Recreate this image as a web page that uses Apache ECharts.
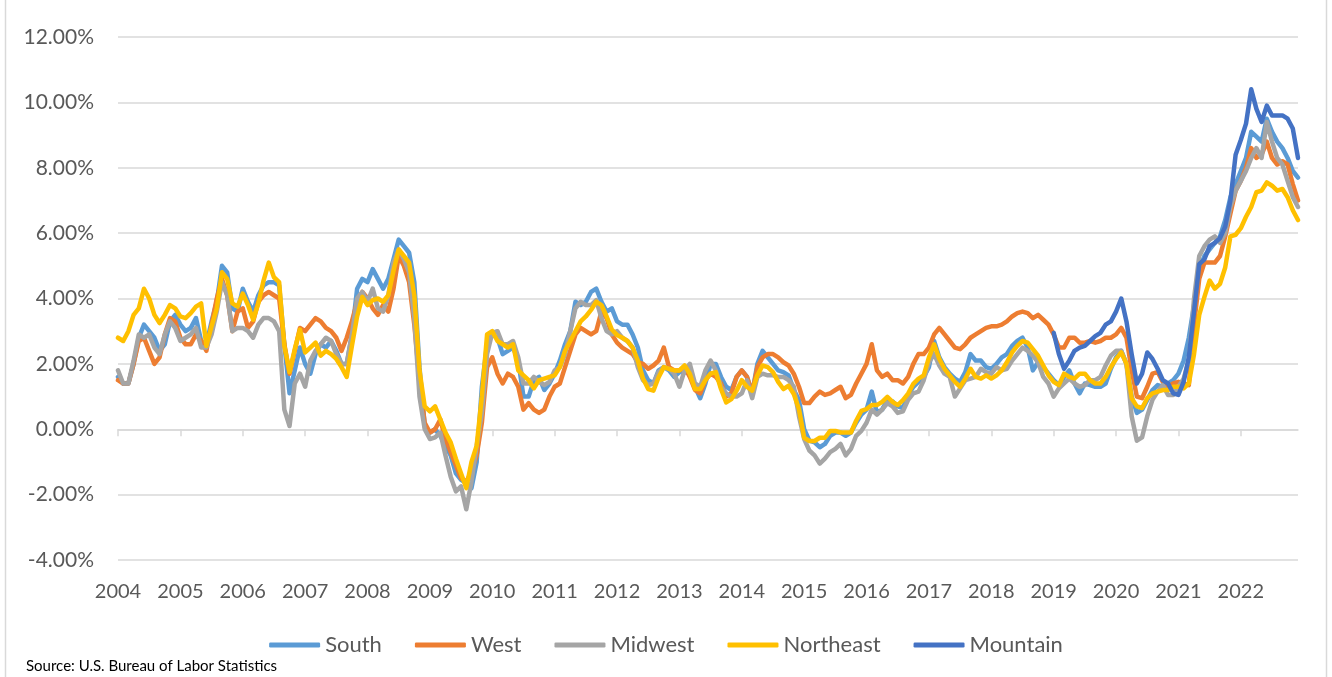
<!DOCTYPE html>
<html>
<head>
<meta charset="utf-8">
<title>Regional CPI</title>
<script src="https://cdn.jsdelivr.net/npm/echarts@6/dist/echarts.min.js"></script>
<style>
  html, body { margin: 0; padding: 0; background: #ffffff; }
  #chart { width: 1332px; height: 677px; }
</style>
</head>
<body>
<div id="chart"></div>
<script>
// monthly, Jan 2004 .. Dec 2022
const years = [2004, 2005, 2006, 2007, 2008, 2009, 2010, 2011, 2012, 2013,
  2014, 2015, 2016, 2017, 2018, 2019, 2020, 2021, 2022];
const months = ["01", "02", "03", "04", "05", "06", "07", "08", "09", "10", "11", "12"];

const south = [
  1.6, 1.4, 1.4, 2.0, 2.8, 3.2, 3.0, 2.8, 2.4, 2.6, 3.3, 3.5,
  3.2, 3.0, 3.1, 3.4, 2.7, 2.6, 3.3, 3.9, 5.0, 4.8, 3.7, 3.6,
  4.3, 3.9, 3.6, 4.1, 4.4, 4.5, 4.5, 4.4, 2.6, 1.1, 1.8, 2.5,
  2.0, 1.7, 2.3, 2.6, 2.5, 2.7, 2.4, 2.0, 2.0, 2.9, 4.3, 4.6,
  4.5, 4.9, 4.6, 4.3, 4.6, 5.2, 5.8, 5.6, 5.4, 4.5, 1.9, 0.1,
  -0.1, 0.0, -0.2, -0.5, -0.8, -1.35, -1.55, -1.65, -1.8, -1.0, 1.3, 2.6,
  2.9, 2.8, 2.3, 2.4, 2.5, 2.1, 1.0, 1.0, 1.5, 1.6, 1.2, 1.4,
  1.7, 2.1, 2.6, 3.0, 3.9, 3.8, 3.9, 4.2, 4.3, 3.9, 3.6, 3.7,
  3.3, 3.2, 3.2, 2.9, 2.5, 1.8, 1.5, 1.4, 1.8, 1.9, 1.8, 1.6,
  1.75, 1.75, 1.7, 1.3, 0.95, 1.4, 2.0, 2.0, 1.6, 1.3, 1.2, 1.6,
  1.8, 1.6, 1.1, 2.0, 2.4, 2.2, 2.0, 1.8, 1.75, 1.65, 1.2, 0.9,
  0.0, -0.35, -0.4, -0.55, -0.45, -0.2, -0.1, -0.1, -0.2, -0.1, 0.2, 0.45,
  0.6, 1.15, 0.5, 0.6, 0.9, 0.85, 0.7, 0.65, 1.05, 1.3, 1.45, 1.6,
  1.9, 2.7, 2.2, 1.9, 1.7, 1.55, 1.45, 1.75, 2.3, 2.1, 2.1, 1.9,
  1.85, 2.0, 2.2, 2.3, 2.55, 2.7, 2.8, 2.5, 1.8, 2.05, 1.9, 1.7,
  1.5, 1.35, 1.6, 1.8, 1.4, 1.1, 1.4, 1.35, 1.3, 1.3, 1.4, 1.85,
  2.2, 2.4, 2.0, 1.0, 0.5, 0.6, 0.9, 1.2, 1.35, 1.3, 1.4, 1.5,
  1.7, 2.1, 2.8, 3.8, 4.9, 5.3, 5.5, 5.7, 5.9, 6.4, 7.1, 7.5,
  7.9, 8.3, 9.1, 8.95, 8.8, 9.5, 9.1, 8.8, 8.6, 8.3, 7.9, 7.7
];

const west = [
  1.5, 1.4, 1.4, 2.0, 2.7, 2.8, 2.4, 2.0, 2.2, 2.9, 3.4, 3.3,
  2.8, 2.6, 2.6, 2.9, 2.7, 2.4, 3.2, 4.0, 4.6, 4.1, 3.0, 3.6,
  3.7, 3.1, 3.3, 3.9, 4.1, 4.2, 4.1, 4.0, 2.6, 1.7, 2.4, 3.1,
  3.0, 3.2, 3.4, 3.3, 3.1, 3.0, 2.8, 2.4, 2.8, 3.3, 3.9, 4.2,
  4.0, 3.7, 3.5, 3.8, 3.6, 4.3, 5.3, 5.0, 4.5, 3.2, 1.5, 0.2,
  -0.1, 0.0, 0.3, -0.3, -0.7, -1.1, -1.5, -1.6, -1.3, -0.8, 0.2, 1.9,
  2.2, 1.7, 1.4, 1.7, 1.6, 1.3, 0.6, 0.8, 0.6, 0.5, 0.6, 1.0,
  1.3, 1.4, 1.9, 2.4, 2.9, 3.1, 3.0, 2.9, 3.0, 3.6, 3.4, 2.9,
  2.65, 2.5, 2.4, 2.3, 2.05, 2.0, 1.85, 1.95, 2.1, 2.5, 1.9, 1.8,
  1.8, 1.9, 1.6, 1.2, 1.1, 1.5, 1.7, 1.6, 1.4, 1.0, 1.1, 1.6,
  1.8, 1.6, 1.1, 1.9, 2.2, 2.3, 2.3, 2.2, 2.05, 1.95, 1.7, 1.3,
  0.8, 0.8, 1.0, 1.15, 1.05, 1.1, 1.2, 1.3, 0.95, 1.05, 1.4, 1.7,
  2.0, 2.6, 1.8, 1.6, 1.7, 1.5, 1.5, 1.4, 1.6, 2.0, 2.3, 2.3,
  2.5, 2.9, 3.1, 2.9, 2.7, 2.5, 2.45, 2.6, 2.8, 2.9, 3.0, 3.1,
  3.15, 3.15, 3.2, 3.3, 3.45, 3.55, 3.6, 3.55, 3.4, 3.5, 3.35, 3.2,
  2.9, 2.5, 2.5, 2.8, 2.8, 2.65, 2.65, 2.7, 2.65, 2.7, 2.8, 2.8,
  2.9, 3.1, 2.8, 1.8, 1.0, 0.95, 1.3, 1.7, 1.75, 1.45, 1.3, 1.4,
  1.45, 1.4, 1.35, 3.2, 4.6, 5.1, 5.1, 5.1, 5.3, 5.9, 6.6, 7.3,
  7.6, 8.0, 8.6, 8.3, 8.4, 8.8, 8.3, 8.1, 8.2, 8.1, 7.5, 7.0
];

const midwest = [
  1.8, 1.4, 1.4, 2.1, 2.9, 2.8, 2.9, 2.5, 2.3, 2.9, 3.3, 3.1,
  2.7, 2.8, 2.9, 3.1, 2.5, 2.5, 2.9, 3.6, 4.5, 4.1, 3.0, 3.1,
  3.1, 3.0, 2.8, 3.2, 3.4, 3.4, 3.3, 3.0, 0.6, 0.1, 1.4, 1.7,
  1.3, 2.1, 2.4, 2.6, 2.8, 2.7, 2.3, 2.0, 2.0, 2.9, 4.0, 4.2,
  3.9, 4.3, 3.7, 3.6, 4.1, 5.1, 5.5, 5.2, 4.8, 3.4, 1.0, 0.0,
  -0.3, -0.25, -0.1, -0.8, -1.45, -1.9, -1.75, -2.45, -1.6, -0.5, 0.5, 2.3,
  2.95, 3.0, 2.6, 2.6, 2.7, 2.2, 1.4, 1.4, 1.6, 1.45, 1.35, 1.45,
  1.8, 1.9, 2.3, 3.0, 3.7, 3.9, 3.8, 3.8, 3.95, 3.4, 3.0, 2.9,
  3.0, 2.8, 2.7, 2.5, 1.9, 1.5, 1.35, 1.4, 1.75, 1.9, 1.85, 1.7,
  1.3, 1.8, 2.0, 1.4, 1.3, 1.8, 2.1, 1.8, 1.3, 1.1, 1.0, 1.0,
  1.1, 1.5, 0.95, 1.6, 1.7, 1.65, 1.65, 1.6, 1.6, 1.5, 1.3, 0.4,
  -0.3, -0.65, -0.8, -1.05, -0.9, -0.7, -0.6, -0.45, -0.8, -0.6, -0.2, -0.05,
  0.2, 0.6, 0.45, 0.6, 0.8, 0.7, 0.5, 0.55, 0.9, 1.1, 1.15, 1.5,
  2.05, 2.3, 1.95, 1.7, 1.6, 1.0, 1.25, 1.5, 1.55, 1.6, 1.85, 1.75,
  1.7, 1.9, 1.8, 1.85, 2.1, 2.3, 2.5, 2.4, 2.25, 2.05, 1.6, 1.4,
  1.0, 1.25, 1.4, 1.55, 1.4, 1.3, 1.35, 1.5, 1.5, 1.6, 1.95, 2.25,
  2.4, 2.4, 2.0, 0.4, -0.35, -0.25, 0.4, 0.9, 1.15, 1.35, 1.05, 1.05,
  1.3, 1.55, 2.1, 4.0, 5.3, 5.6, 5.8, 5.9, 5.7, 6.0, 6.8, 7.3,
  7.6, 7.9, 8.3, 8.6, 8.3, 9.4, 8.8, 8.3, 8.1, 7.6, 7.1, 6.8
];

const northeast = [
  2.8, 2.7, 3.0, 3.5, 3.7, 4.3, 4.0, 3.5, 3.25, 3.5, 3.8, 3.7,
  3.45, 3.4, 3.55, 3.75, 3.85, 2.55, 3.15, 3.7, 4.8, 4.6, 3.85, 3.75,
  4.15, 3.8, 3.35, 3.85, 4.55, 5.1, 4.65, 4.5, 2.55, 1.75, 2.45, 3.05,
  2.35, 2.5, 2.65, 2.25, 2.4, 2.3, 2.15, 1.9, 1.6, 2.55, 3.45, 4.05,
  3.8, 3.95, 4.0, 3.9, 4.1, 4.85, 5.5, 5.3, 5.1, 4.1, 1.8, 0.7,
  0.55, 0.7, 0.3, -0.1, -0.4, -0.9, -1.35, -1.8, -1.0, -0.5, 1.0, 2.9,
  3.0, 2.7, 2.6, 2.5, 2.6, 1.8, 1.65, 1.5, 1.25, 1.5, 1.55, 1.6,
  1.65, 1.9, 2.4, 2.7, 3.0, 3.3, 3.45, 3.65, 3.9, 3.8, 3.45, 3.05,
  2.88, 2.8, 2.7, 2.5, 2.1, 1.55, 1.23, 1.18, 1.59, 1.9, 1.85, 1.8,
  1.8, 1.95, 1.7, 1.23, 1.23, 1.5, 1.7, 1.75, 1.23, 0.82, 0.92, 1.18,
  1.5, 1.3, 1.18, 1.65, 1.95, 1.9, 1.75, 1.45, 1.23, 1.33, 1.08, 0.62,
  -0.26, -0.36, -0.36, -0.26, -0.26, -0.05, -0.05, -0.1, -0.1, -0.1, 0.26, 0.56,
  0.62, 0.74, 0.74, 0.84, 0.99, 0.84, 0.74, 0.89, 1.09, 1.39, 1.55, 1.65,
  2.2, 2.6, 2.15, 1.85, 1.65, 1.45, 1.3, 1.55, 1.85, 1.6, 1.55, 1.65,
  1.55, 1.65, 1.8, 2.05, 2.35, 2.55, 2.7, 2.65, 2.45, 2.25, 1.95, 1.65,
  1.45, 1.35, 1.7, 1.6, 1.55, 1.7, 1.7, 1.5, 1.4, 1.4, 1.6, 1.9,
  2.15, 2.35, 2.0, 0.95, 0.7, 0.65, 0.95, 1.1, 1.15, 1.2, 1.2, 1.3,
  1.3, 1.25, 1.4, 2.3, 3.5, 4.05, 4.55, 4.3, 4.45, 4.95, 5.9, 5.95,
  6.15, 6.5, 6.8, 7.25, 7.3, 7.55, 7.45, 7.3, 7.35, 7.1, 6.7, 6.4
];

// Mountain series only begins in 2019
const mountainStart = 2019;
const mountain = [
  2.95, 2.3, 1.85, 2.1, 2.4, 2.5, 2.55, 2.7, 2.85, 2.95, 3.2, 3.3,
  3.6, 4.0, 3.3, 2.3, 1.4, 1.7, 2.35, 2.15, 1.85, 1.5, 1.4, 1.1,
  1.05, 1.45, 2.2, 3.6, 5.05, 5.2, 5.6, 5.7, 5.85, 6.2, 7.0, 8.4,
  8.85, 9.35, 10.4, 9.8, 9.4, 9.9, 9.6, 9.6, 9.6, 9.5, 9.2, 8.3
];

const seriesNames = ["South", "West", "Midwest", "Northeast", "Mountain"];
const seriesColors = ["#5B9BD5", "#ED7D31", "#A5A5A5", "#FFC000", "#4472C4"];
const yTicks = [-4, -2, 0, 2, 4, 6, 8, 10, 12];

let categories = [];
years.forEach((y) => months.forEach((m) => categories.push(y + "-" + m)));

let mountainFull = categories.map((c, i) => {
  let k = i - (mountainStart - years[0]) * 12;
  return k >= 0 ? mountain[k] : null;
});

const allData = [south, west, midwest, northeast, mountainFull];
const font = "Lato, Calibri, sans-serif";

let option = {
  animation: false,
  color: seriesColors,
  grid: {
    left: 118,
    right: 34,
    top: 37,
    bottom: 117,
  },
  legend: {
    data: seriesNames,
    top: 629,
    left: "center",
    icon: "roundRect",
    itemWidth: 51,
    itemHeight: 5,
    itemGap: 33,
    textStyle: {
      fontFamily: font,
      fontSize: 22,
      color: "#595959",
    },
  },
  xAxis: [
    {
      type: "category",
      data: categories,
      boundaryGap: false,
      axisLine: {
        onZero: true,
        lineStyle: { color: "#d9d9d9", width: 1.5 },
      },
      axisTick: {
        interval: 11,
        length: 7,
        lineStyle: { color: "#d9d9d9", width: 1.5 },
      },
      axisLabel: { show: false },
    },
    {
      // year labels sit at the bottom, separate from the zero line
      type: "category",
      data: categories,
      boundaryGap: false,
      position: "bottom",
      axisLine: { show: false, onZero: false },
      axisTick: { show: false },
      axisLabel: {
        interval: 11,
        margin: 22,
        fontFamily: font,
        fontSize: 20,
        color: "#595959",
        formatter: (v) => v.slice(0, 4),
      },
    },
  ],
  yAxis: {
    type: "value",
    min: yTicks[0],
    max: yTicks[yTicks.length - 1],
    interval: 2,
    axisLine: { show: false },
    axisTick: { show: false },
    axisLabel: {
      margin: 24,
      fontFamily: font,
      fontSize: 21,
      color: "#595959",
      formatter: (v) => v.toFixed(2) + "%",
    },
    splitLine: {
      lineStyle: { color: "#d9d9d9", width: 1.5 },
    },
  },
  graphic: [
    {
      type: "rect",
      shape: { x: 5.5, y: -5, width: 1321, height: 700 },
      style: { fill: "none", stroke: "#d9d9d9", lineWidth: 1.5 },
      silent: true,
    },
    {
      type: "text",
      left: 26,
      top: 659,
      style: {
        text: "Source: U.S. Bureau of Labor Statistics",
        fontFamily: font,
        fontSize: 15,
        fill: "#000000",
      },
    },
  ],
  series: seriesNames.map((name, i) => ({
    name: name,
    type: "line",
    xAxisIndex: 0,
    data: allData[i],
    showSymbol: false,
    symbol: "none",
    connectNulls: false,
    lineStyle: {
      width: 4.5,
      cap: "round",
      join: "round",
    },
  })),
};

let myChart = echarts.init(document.getElementById("chart"));
myChart.setOption(option);
</script>
</body>
</html>
